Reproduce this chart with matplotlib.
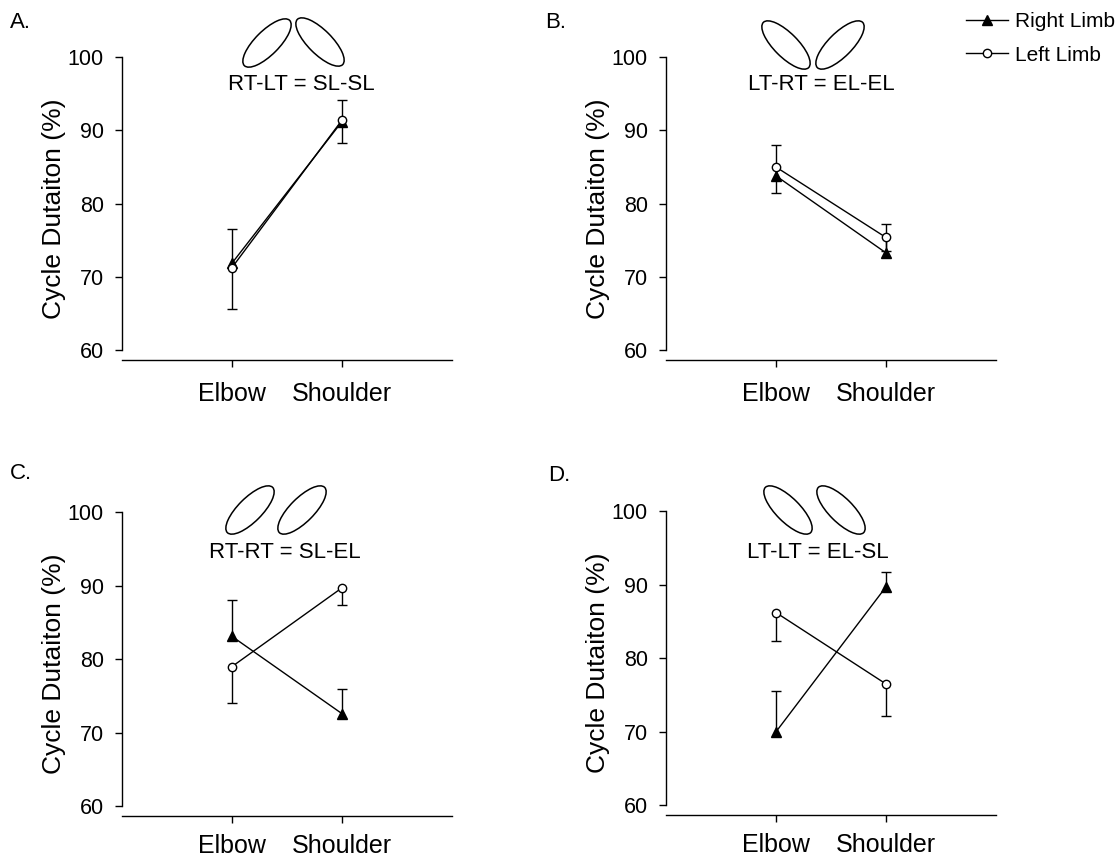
import matplotlib
matplotlib.use("Agg")
import matplotlib.pyplot as plt
from matplotlib.patches import Ellipse

plt.rcParams['font.family'] = ['Liberation Sans', 'DejaVu Sans']

# data: cycle duration (%) per joint for the four coordination conditions
joints = ["Elbow", "Shoulder"]
y_ticks = [60, 70, 80, 90, 100]
panel_letters = ["A.", "B.", "C.", "D."]
conditions = ["RT-LT = SL-SL", "LT-RT = EL-EL", "RT-RT = SL-EL", "LT-LT = EL-SL"]

# right limb: mean with upward error bar
right_mean = [[71.9, 91.2], [83.8, 73.3], [83.1, 72.6], [70.0, 89.7]]
right_err = [[4.7, 2.9], [4.2, 4.0], [4.9, 3.4], [5.6, 2.0]]
# left limb: mean with downward error bar
left_mean = [[71.3, 91.4], [85.0, 75.4], [79.0, 89.7], [86.2, 76.5]]
left_err = [[5.7, 3.1], [3.5, 1.8], [5.0, 2.4], [3.9, 4.4]]

W, H = 1120, 859
fig = plt.figure(figsize=(W / 100, H / 100), dpi=100)

# panel boxes in pixels: left, right, top, bottom
boxes = [(122, 452, 57, 360), (666, 996, 57, 360),
         (122, 452, 512, 816), (666, 996, 511, 815)]
xlabel_pad = [10.5, 10.5, 8, 8]
letter_pos = [(10, 22), (545, 22), (10, 474), (548, 476)]
cond_pos = [(301, 85), (821, 85), (285, 553), (818, 553)]
# limb icons: centre (px) and tilt of each ellipse
icons = [[(267, 43, 45), (320, 42, -45)],
         [(786, 45, -45), (840, 45, 45)],
         [(250, 510, 45), (302, 510, 45)],
         [(788, 510, -45), (841, 510, -45)]]

x = [1, 2]
for i in range(4):
    l, r, t, b = boxes[i]
    ax = fig.add_axes([l / W, 1 - b / H, (r - l) / W, (b - t) / H])

    rm, re_ = right_mean[i], right_err[i]
    lm, le = left_mean[i], left_err[i]
    r_top = [m + e for m, e in zip(rm, re_)]
    l_bot = [m - e for m, e in zip(lm, le)]

    ax.vlines(x, rm, r_top, color="black", lw=1, zorder=1)
    ax.plot(x, r_top, ls="none", marker="_", ms=6.5, mew=1, color="black", zorder=1)
    ax.vlines(x, l_bot, lm, color="black", lw=1, zorder=1)
    ax.plot(x, l_bot, ls="none", marker="_", ms=6.5, mew=1, color="black", zorder=1)

    ax.plot(x, rm, color="black", lw=1, marker="^", ms=7.5, zorder=2, label="Right Limb")
    ax.plot(x, lm, color="black", lw=1, marker="o", ms=6, mfc="white", mec="black",
            mew=1, zorder=3, label="Left Limb")

    ax.set_xlim(0, 3)
    ax.set_ylim(58.7, 100)
    ax.set_xticks(x)
    ax.set_xticklabels(joints)
    ax.set_yticks(y_ticks)
    ax.spines["top"].set_visible(False)
    ax.spines["right"].set_visible(False)
    ax.spines["left"].set_bounds(60, 100)
    ax.spines["left"].set_linewidth(1)
    ax.spines["bottom"].set_linewidth(1)
    ax.tick_params(axis="y", direction="out", length=5, width=1, pad=8, labelsize=15.5)
    ax.tick_params(axis="x", direction="out", length=5, width=1, pad=xlabel_pad[i],
                   labelsize=18)
    ax.set_ylabel("Cycle Dutaiton (%)", fontsize=19, labelpad=1)
    ax.patch.set_alpha(0)

    lx, ly = letter_pos[i]
    fig.text(lx / W, 1 - ly / H, panel_letters[i], fontsize=16, ha="left", va="center")
    cx, cy = cond_pos[i]
    fig.text(cx / W, 1 - cy / H, conditions[i], fontsize=16, ha="center", va="center")

    for ex, ey, ang in icons[i]:
        fig.patches.append(Ellipse((ex / 100, (H - ey) / 100), 0.64, 0.24, angle=ang,
                                   transform=fig.dpi_scale_trans, fill=False,
                                   edgecolor="black", lw=1.1))

    if i == 1:
        handles, labels = ax.get_legend_handles_labels()

fig.legend(handles, labels, loc="upper left", bbox_to_anchor=(966 / W, 1 - 12 / H),
           frameon=False, fontsize=15, handlelength=2.0, handletextpad=0.33,
           labelspacing=0.7, borderpad=0, borderaxespad=0)

fig.savefig("out.png", dpi=100)
